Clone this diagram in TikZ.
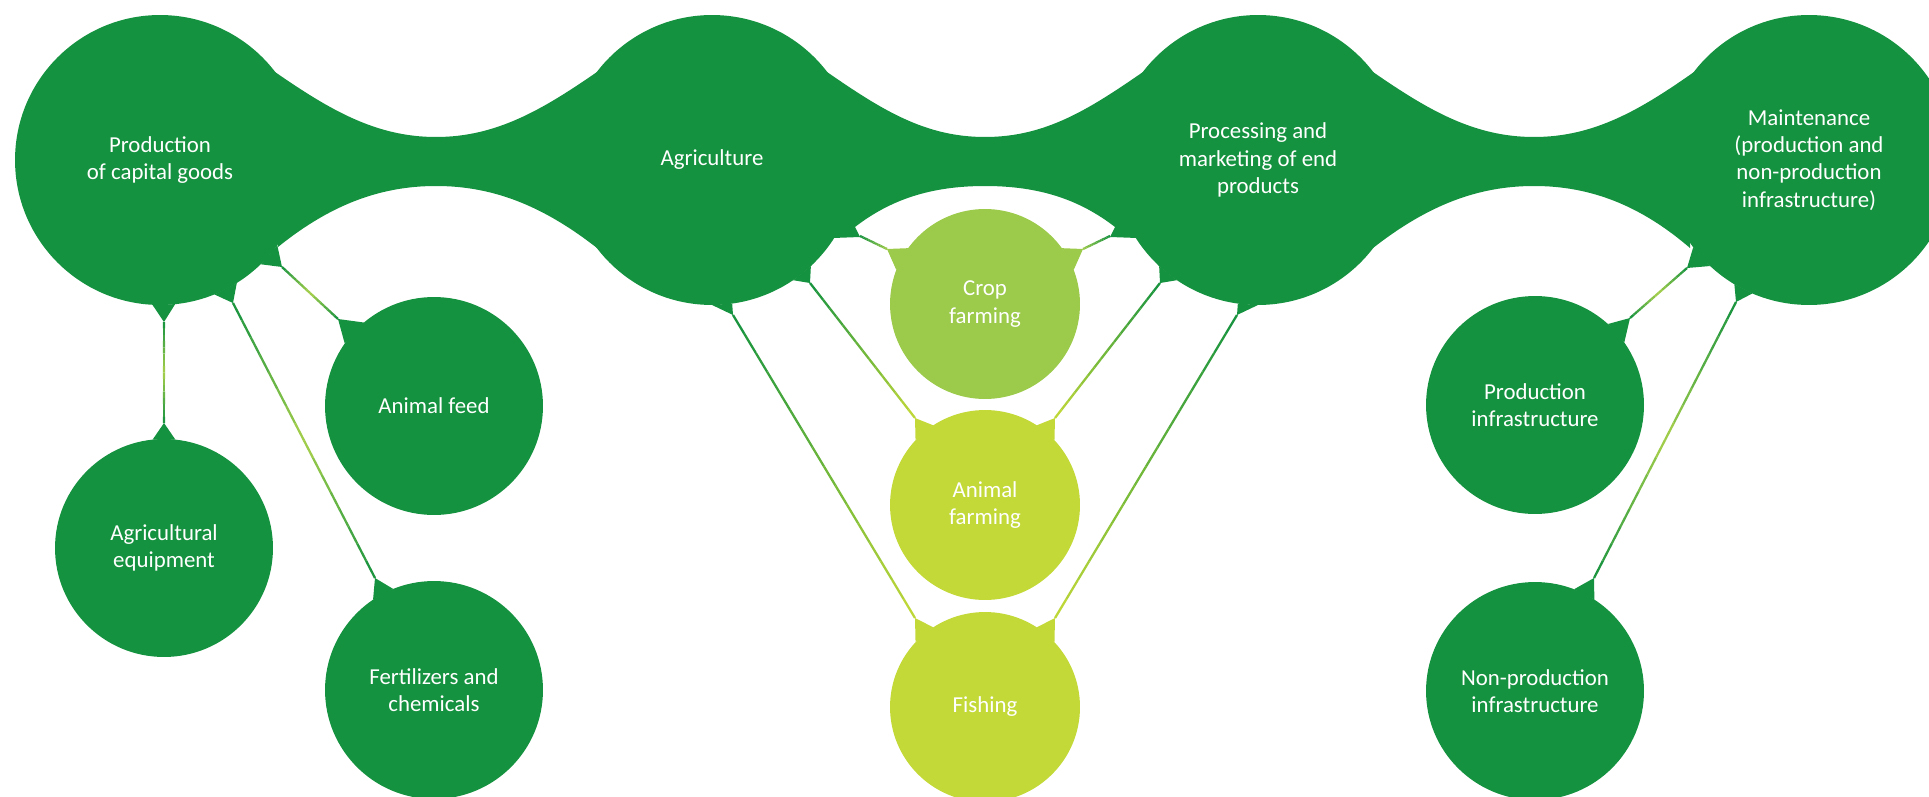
\documentclass[tikz,border=0pt]{standalone}
\usepackage{fontspec}
\setmainfont{Carlito}
\usetikzlibrary{calc}
\definecolor{dgreen}{RGB}{21,146,63}
\definecolor{cropgreen}{RGB}{156,202,74}
\definecolor{farmgreen}{RGB}{195,217,56}
\definecolor{stemlight}{RGB}{168,208,76}

% thin stem, colour runs start -> middle -> end
\newcommand\linkstem[5]{%
  \foreach \i in {1,...,8}{%
    \pgfmathsetmacro\ta{(\i-1)/16}%
    \pgfmathsetmacro\tb{\i/16}%
    \pgfmathsetmacro\p{(\i-0.5)*12.5}%
    \draw[stemline, color=#4!\p!#3] ($(#1)!\ta!(#2)$) -- ($(#1)!\tb!(#2)$);
    \draw[stemline, color=#4!\p!#5] ($(#2)!\ta!(#1)$) -- ($(#2)!\tb!(#1)$);
  }}

\begin{document}
\begin{tikzpicture}[x=0.02cm, y=-0.02cm]
	\tikzstyle{hub} = [circle,fill=dgreen,inner sep=0pt,outer sep=0pt,minimum size=5.8cm,text=white,align=center,font=\fontsize{13}{15.5}\selectfont]
	\tikzstyle{leaf} = [hub,minimum size=4.36cm]
	\tikzstyle{farm} = [hub,minimum size=3.8cm]
	\tikzstyle{stemline} = [line width=1.3pt]
	\useasboundingbox (0,0) rectangle (1929,797);
	% necks between the four stages
	\fill[dgreen] (275,72) .. controls (330,110) and (376,137) .. (436,137) .. controls (496,137) and (542,110) .. (597,72) -- (597,248) .. controls (542,205) and (492,186) .. (436,186) .. controls (380,186) and (330,205) .. (278,247) -- cycle;
	\fill[dgreen] (827,72) .. controls (882,110) and (925,137) .. (985,137) .. controls (1045,137) and (1088,110) .. (1143,72) -- (1150,180) -- (1159,266) -- (1137,238) -- (1110,237) -- (1115,227) .. controls (1080,200) and (1040,186) .. (985,186) .. controls (930,186) and (890,200) .. (855,227) -- (860,237) -- (833,238) -- (811,266) -- (820,180) -- cycle;
	\fill[dgreen] (1373,72) .. controls (1428,110) and (1474,137) .. (1534,137) .. controls (1594,137) and (1640,110) .. (1694,72) -- (1690,248) .. controls (1640,205) and (1590,186) .. (1534,186) .. controls (1478,186) and (1428,205) .. (1373,248) -- cycle;
	% stages
	\node[hub] (capital) at (160,160) {Production\\of capital goods};
	\node[hub] (agri) at (712,160) {Agriculture};
	\node[hub] (proc) at (1258,160) {Processing and\\marketing of end\\products};
	\node[hub] (maint) at (1809,160) {Maintenance\\(production and\\non-production\\infrastructure)};
	% inputs
	\node[leaf] (equip) at (164,548) {Agricultural\\equipment};
	\node[leaf] (feed) at (434,406) {Animal feed};
	\node[leaf] (fert) at (434,690) {Fertilizers and\\chemicals};
	% farming
	\node[farm,fill=cropgreen] (crop) at (985,304) {Crop\\farming};
	\node[farm,fill=farmgreen] (animal) at (985,505) {Animal\\farming};
	\node[farm,fill=farmgreen] (fish) at (985,707) {Fishing};
	% infrastructure
	\node[leaf] (prodinf) at (1535,405) {Production\\infrastructure};
	\node[leaf] (nonprod) at (1535,691) {Non-production\\infrastructure};
	% stem ends
	\coordinate (equipa) at (164,322); \coordinate (equipb) at (164,423);
	\coordinate (ferta) at (233,303); \coordinate (fertb) at (375,578);
	\coordinate (feeda) at (282,267); \coordinate (feedb) at (338,319);
	\coordinate (fishla) at (733,315); \coordinate (fishlb) at (915,618);
	\coordinate (animla) at (810,283); \coordinate (animlb) at (915,418);
	\coordinate (cropla) at (860,236); \coordinate (croplb) at (887,249);
	\coordinate (cropra) at (1110,236); \coordinate (croprb) at (1083,249);
	\coordinate (animra) at (1160,283); \coordinate (animrb) at (1055,418);
	\coordinate (fishra) at (1237,315); \coordinate (fishrb) at (1055,618);
	\coordinate (prodinfa) at (1687,268); \coordinate (prodinfb) at (1630,318);
	\coordinate (nonproda) at (1736,302); \coordinate (nonprodb) at (1594,578);
	% flares
	\fill[dgreen] (capital.-93) -- (equipa) -- (capital.-84) -- cycle;
	\fill[dgreen] (equip.96) -- (equipb) -- (equip.84) -- cycle;
	\fill[dgreen] (capital.-68) -- (ferta) -- (capital.-58) -- cycle;
	\fill[dgreen] (fert.124) -- (fertb) -- (fert.112) -- cycle;
	\fill[dgreen] (capital.-46) -- (feeda) -- (capital.-36) -- cycle;
	\fill[dgreen] (feed.145) -- (feedb) -- (feed.130) -- cycle;
	\fill[dgreen] (agri.-90) -- (fishla) -- (agri.-82) -- cycle;
	\fill[farmgreen] (fish.123) -- (fishlb) -- (fish.137) -- cycle;
	\fill[dgreen] (agri.-56) -- (animla) -- (agri.-47) -- cycle;
	\fill[farmgreen] (animal.123) -- (animlb) -- (animal.137) -- cycle;
	\fill[cropgreen] (crop.144) -- (croplb) -- (crop.159) -- cycle;
	\fill[cropgreen] (crop.36) -- (croprb) -- (crop.21) -- cycle;
	\fill[dgreen] (proc.-124) -- (animra) -- (proc.-133) -- cycle;
	\fill[farmgreen] (animal.57) -- (animrb) -- (animal.43) -- cycle;
	\fill[dgreen] (proc.-90) -- (fishra) -- (proc.-98) -- cycle;
	\fill[farmgreen] (fish.57) -- (fishrb) -- (fish.43) -- cycle;
	\fill[dgreen] (maint.-143) -- (prodinfa) -- (maint.-133) -- cycle;
	\fill[dgreen] (prodinf.48) -- (prodinfb) -- (prodinf.35) -- cycle;
	\fill[dgreen] (maint.-121) -- (nonproda) -- (maint.-113) -- cycle;
	\fill[dgreen] (nonprod.69) -- (nonprodb) -- (nonprod.57) -- cycle;
	% stems
	\linkstem{equipa}{equipb}{dgreen}{stemlight}{dgreen}
	\linkstem{ferta}{fertb}{dgreen}{stemlight}{dgreen}
	\linkstem{feeda}{feedb}{dgreen}{stemlight}{dgreen}
	\linkstem{fishla}{fishlb}{dgreen}{farmgreen!50!dgreen}{farmgreen}
	\linkstem{animla}{animlb}{dgreen}{farmgreen!50!dgreen}{farmgreen}
	\linkstem{cropla}{croplb}{dgreen}{cropgreen!50!dgreen}{cropgreen}
	\linkstem{cropra}{croprb}{dgreen}{cropgreen!50!dgreen}{cropgreen}
	\linkstem{animra}{animrb}{dgreen}{farmgreen!50!dgreen}{farmgreen}
	\linkstem{fishra}{fishrb}{dgreen}{farmgreen!50!dgreen}{farmgreen}
	\linkstem{prodinfa}{prodinfb}{dgreen}{stemlight}{dgreen}
	\linkstem{nonproda}{nonprodb}{dgreen}{stemlight}{dgreen}
\end{tikzpicture}
\end{document}
